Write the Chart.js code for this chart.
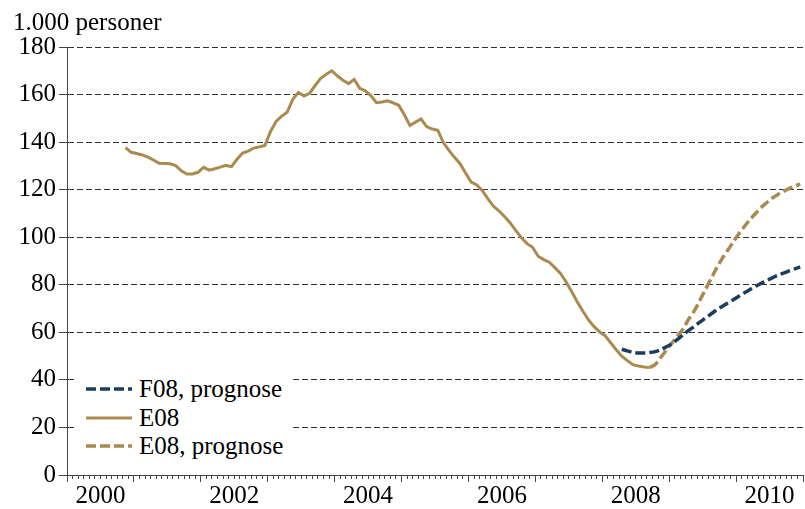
<!DOCTYPE html>
<html>
<head>
<meta charset="utf-8">
<script src="https://cdn.jsdelivr.net/npm/chart.js@4/dist/chart.umd.min.js"></script>
<style>
  body { margin: 0; background: #fff; }
  #wrap { position: relative; width: 805px; height: 509px; }
  #legend {
    position: absolute; left: 77px; top: 375px; width: 216px; height: 88px;
    background: #fff; font-family: "Liberation Serif", serif; font-size: 25px; color: #000;
  }
  #legend .row { height: 28.5px; display: flex; align-items: center; }
  #legend svg { margin-left: 9px; margin-right: 7px; }
</style>
</head>
<body>
<div id="wrap">
  <canvas id="myChart" width="805" height="509"></canvas>
  <div id="legend"></div>
</div>
<script>
const ctx = document.getElementById('myChart').getContext("2d");

// months counted from Jan 2000 (0 = Jan 2000)
const yearLabels = ["2000", "2002", "2004", "2006", "2008", "2010"];
const yTicks = [0, 20, 40, 60, 80, 100, 120, 140, 160, 180];

// E08, actual (monthly, from Nov 2000)
const e08Start = 10;
const e08 = [
  137.7, 135.7, 135.2, 134.6, 133.7, 132.5, 131.1, 131.0, 130.9, 130.1,
  127.9, 126.6, 126.6, 127.3, 129.4, 128.2, 128.8, 129.5, 130.2, 129.7,
  132.8, 135.4, 136.2, 137.5, 138.0, 138.6, 144.5, 148.7, 150.9, 152.6,
  158.0, 160.9, 159.4, 160.5, 163.8, 166.8, 168.5, 170.0, 167.8, 166.0,
  164.6, 166.4, 162.6, 161.6, 159.6, 156.6, 156.9, 157.4, 156.5, 155.5,
  151.5, 147.0, 148.4, 149.7, 146.5, 145.5, 145.0, 139.8, 136.5, 133.6,
  130.9, 126.9, 123.2, 122.0, 119.6, 116.1, 113.0, 111.0, 108.6, 106.0,
  102.8, 99.8, 97.3, 95.8, 92.0, 90.6, 89.5, 87.2, 84.8, 81.3,
  77.2, 72.9, 69.0, 65.3, 62.5, 60.2, 58.6, 55.6, 52.7, 50.0,
  48.1, 46.4, 45.8, 45.4, 45.2
];

// E08, prognose (from Sep 2008)
const e08pStart = 104;
const e08p = [
  45.2, 46.5, 49.5, 52.5, 55.5, 58.5, 61.5, 65.5, 69.0, 73.5,
  78.0, 82.5, 87.0, 91.0, 94.5, 98.0, 101.5, 104.5, 107.5, 110.0,
  112.5, 114.5, 116.5, 118.0, 119.3, 120.5, 121.5, 122.3
];

// F08, prognose (from Apr 2008)
const f08pStart = 99;
const f08p = [
  52.9, 52.2, 51.6, 51.3, 51.3, 51.5, 51.9, 52.7, 53.9, 55.3,
  57.0, 59.0, 60.8, 62.5, 64.3, 66.0, 67.7, 69.4, 70.9, 72.3,
  73.7, 75.2, 76.6, 78.0, 79.4, 80.6, 81.8, 82.9, 84.0, 84.9,
  85.8, 86.7, 87.5
];

const gold = "#A98B4F";
const navy = "#1C3D5E";
const serif = "'Liberation Serif', 'Times New Roman', serif";

function toPoints(start, vals) {
  return vals.map((v, i) => ({ x: start + i + 0.5, y: v }));
}

const data = {
  datasets: [
    {
      label: "F08, prognose",
      data: toPoints(f08pStart, f08p),
      borderColor: navy,
      borderWidth: 3.5,
      borderDash: [10, 4],
      pointRadius: 0,
      tension: 0.3,
    },
    {
      label: "E08",
      data: toPoints(e08Start, e08),
      borderColor: gold,
      borderWidth: 3,
      pointRadius: 0,
      tension: 0,
    },
    {
      label: "E08, prognose",
      data: toPoints(e08pStart, e08p),
      borderColor: gold,
      borderWidth: 3.5,
      borderDash: [10, 4],
      pointRadius: 0,
      tension: 0.3,
    },
  ],
};

const config = {
  type: 'line',
  data: data,
  options: {
    responsive: false,
    animation: false,
    layout: { padding: { left: 13, right: 0, top: 0, bottom: 0 } },
    plugins: {
      legend: { display: false },
      tooltip: { enabled: false },
      title: {
        display: true,
        text: "1.000 personer",
        align: 'start',
        color: "#000",
        font: { family: serif, size: 25, weight: 'normal' },
        padding: { top: 8, bottom: 9 },
      },
    },
    scales: {
      x: {
        type: 'linear',
        min: 0,
        max: 132,
        weight: 0,
        afterFit: (s) => { s.height = 34; },
        afterBuildTicks: (s) => {
          s.ticks = Array.from({ length: 133 }, (_, i) => ({ value: i }));
        },
        ticks: {
          autoSkip: false,
          maxRotation: 0,
          padding: 2,
          color: "#000",
          font: { family: serif, size: 25 },
          callback: (v) => {
            const k = (v - 6) / 24;
            return Number.isInteger(k) && yearLabels[k] ? yearLabels[k] : "";
          },
        },
        grid: { drawOnChartArea: false, tickLength: 4, color: "#444", tickBorderDash: [] },
        border: { color: "#444", width: 1 },
      },
      x2: {
        type: 'linear',
        position: 'bottom',
        min: 0,
        max: 132,
        weight: -1,
        afterFit: (s) => { s.height = 0; },
        afterBuildTicks: (s) => {
          s.ticks = Array.from({ length: 12 }, (_, i) => ({ value: i * 12 }));
        },
        ticks: { display: false },
        grid: { drawOnChartArea: false, tickLength: 7, color: "#444", tickBorderDash: [] },
        border: { display: false },
      },
      y: {
        min: 0,
        max: 180,
        afterFit: (s) => { s.width = 54; },
        afterBuildTicks: (s) => { s.ticks = yTicks.map(v => ({ value: v })); },
        ticks: {
          padding: 3,
          color: "#000",
          font: { family: serif, size: 25 },
        },
        grid: { color: "#333", lineWidth: 1, tickLength: 8, tickBorderDash: [], tickColor: "#444" },
        border: { color: "#444", width: 1, dash: [6, 3] },
      },
    },
  },
};

const myChart = new Chart(ctx, config);

// legend inside the plot, built from the datasets
const legend = document.getElementById('legend');
data.datasets.forEach((ds) => {
  const row = document.createElement('div');
  row.className = 'row';
  const dash = ds.borderDash ? ds.borderDash.join(',') : 'none';
  row.innerHTML =
    '<svg width="46" height="6"><line x1="0" y1="3" x2="46" y2="3" stroke="' + ds.borderColor +
    '" stroke-width="' + ds.borderWidth + '" stroke-dasharray="' + dash + '"/></svg>' +
    '<span>' + ds.label + '</span>';
  legend.appendChild(row);
});
</script>
</body>
</html>
